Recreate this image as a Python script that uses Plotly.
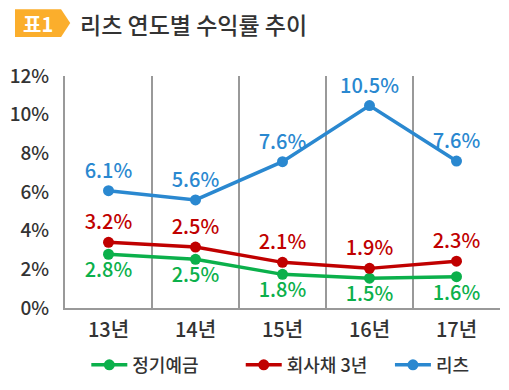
import plotly.graph_objects as go

years = ["13년", "14년", "15년", "16년", "17년"]
deposit = [2.78, 2.52, 1.74, 1.54, 1.62]
deposit_labels = ["2.8%", "2.5%", "1.8%", "1.5%", "1.6%"]
bond = [3.4, 3.15, 2.36, 2.05, 2.42]
bond_labels = ["3.2%", "2.5%", "2.1%", "1.9%", "2.3%"]
reits = [6.07, 5.59, 7.57, 10.47, 7.6]
reits_labels = ["6.1%", "5.6%", "7.6%", "10.5%", "7.6%"]

FONT = "Noto Sans CJK KR"
GREEN = "#0BB04B"
RED = "#C00000"
BLUE = "#2A88D0"
W = 500

fig = go.Figure()
series = [
    ("정기예금", deposit, deposit_labels, GREEN, "bottom center", "legend", 0.049),
    ("회사채 3년", bond, bond_labels, RED, "top center", "legend2", 0.404),
    ("리츠", reits, reits_labels, BLUE, "top center", "legend3", 0.747),
]
legends = {}
for name, vals, labs, col, pos, lg, lx in series:
    fig.add_trace(go.Scatter(
        x=years, y=vals, name=name, mode="lines+markers+text",
        text=labs, textposition=pos,
        textfont=dict(family=FONT, size=20, color=col, weight=W),
        line=dict(color=col, width=3.5),
        marker=dict(color=col, size=11),
        cliponaxis=False, legend=lg,
    ))
    legends[lg] = dict(orientation="h", x=lx, xanchor="left",
                       y=-0.246, yanchor="middle",
                       font=dict(family=FONT, size=18, color="#333333", weight=W),
                       itemwidth=36)

fig.update_layout(
    width=509, height=390,
    margin=dict(l=57, r=17, t=68, b=90, autoexpand=False),
    plot_bgcolor="white", paper_bgcolor="white",
    font=dict(family=FONT, color="#333333"),
    showlegend=True,
    xaxis=dict(type="category", tickson="boundaries", showgrid=True,
               gridcolor="#999999", gridwidth=1.5, ticks="",
               showline=True, linecolor="#999999", linewidth=2,
               tickfont=dict(family=FONT, size=20, color="#333333", weight=W),
               ticklabelstandoff=3,
               range=[-0.5, 4.5], fixedrange=True),
    yaxis=dict(range=[0, 12], dtick=2, ticksuffix="%", showgrid=False, zeroline=False,
               showline=True, linecolor="#999999", linewidth=2, ticks="",
               tickfont=dict(family=FONT, size=19, color="#333333", weight=W),
               ticklabelstandoff=10),
    **legends,
)

# title badge
fig.add_shape(type="path", xref="paper", yref="paper",
              path="M -0.115 1.288 L -0.009 1.288 L 0.012 1.228 L -0.009 1.168 L -0.115 1.168 Z",
              fillcolor="#FBAE2C", line=dict(width=0))
fig.add_annotation(xref="paper", yref="paper", x=-0.063, y=1.228, text="<b>표1</b>",
                   showarrow=False, font=dict(family=FONT, size=20, color="white"),
                   xanchor="center", yanchor="middle")
fig.add_annotation(xref="paper", yref="paper", x=0.030, y=1.226, text="리츠 연도별 수익률 추이",
                   showarrow=False, font=dict(family=FONT, size=23, color="#333333", weight=W),
                   xanchor="left", yanchor="middle")

fig.write_html("out.html")
